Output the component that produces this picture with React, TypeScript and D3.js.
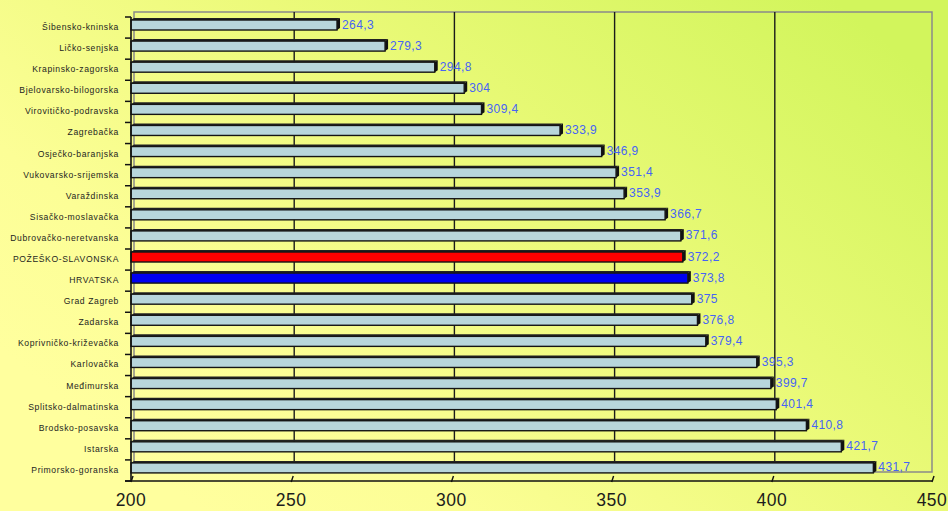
import React from "react";
import * as d3 from "d3";

const categories = [
  "Šibensko-kninska",
  "Ličko-senjska",
  "Krapinsko-zagorska",
  "Bjelovarsko-bilogorska",
  "Virovitičko-podravska",
  "Zagrebačka",
  "Osječko-baranjska",
  "Vukovarsko-srijemska",
  "Varaždinska",
  "Sisačko-moslavačka",
  "Dubrovačko-neretvanska",
  "POŽEŠKO-SLAVONSKA",
  "HRVATSKA",
  "Grad Zagreb",
  "Zadarska",
  "Koprivničko-križevačka",
  "Karlovačka",
  "Međimurska",
  "Splitsko-dalmatinska",
  "Brodsko-posavska",
  "Istarska",
  "Primorsko-goranska",
];

const values = [
  264.3, 279.3, 294.8, 304, 309.4, 333.9, 346.9, 351.4, 353.9, 366.7, 371.6,
  372.2, 373.8, 375, 376.8, 379.4, 395.3, 399.7, 401.4, 410.8, 421.7, 431.7,
];

const xTicks = [200, 250, 300, 350, 400, 450];
const xDomain = [200, 450];

const highlight: Record<string, string> = {
  "POŽEŠKO-SLAVONSKA": "#ff0000",
  HRVATSKA: "#0000f0",
};

const W = 948;
const H = 511;
const FONT = "'Liberation Sans', Arial, sans-serif";

export default function App() {
  const x = d3.scaleLinear().domain(xDomain).range([131, 932]);
  const y = d3.scaleBand().domain(categories).range([17, 481]).padding(0);
  const bw = y.bandwidth();
  const dx = 3;
  const dy = 2;
  const wallTop = 12;
  const wallBottom = 472;
  const fmt = (v: number) => String(v).replace(".", ",");

  return (
    <div style={{ position: "absolute", left: 0, top: 0 }}>
      <svg width={W} height={H} style={{ display: "block" }}>
        <defs>
          <linearGradient id="bg" gradientUnits="userSpaceOnUse" x1={760} y1={-60} x2={260} y2={560}>
            <stop offset="0" stopColor="#d2f55c" />
            <stop offset="0.45" stopColor="#ecfa7a" />
            <stop offset="0.8" stopColor="#fcfe96" />
            <stop offset="1" stopColor="#ffff9e" />
          </linearGradient>
        </defs>
        <rect x={0} y={0} width={W} height={H} fill="url(#bg)" />

        {/* back wall */}
        <rect
          x={x(200) + dx}
          y={wallTop}
          width={x(450) - x(200) - dx}
          height={wallBottom - wallTop}
          fill="none"
          stroke="#8a8a8a"
          strokeWidth={1.5}
        />
        {/* grid lines */}
        {xTicks.slice(1, -1).map((t) => (
          <line
            key={"g" + t}
            x1={x(t) + dx}
            x2={x(t) + dx}
            y1={wallTop}
            y2={wallBottom}
            stroke="#1a1a1a"
            strokeWidth={1.4}
          />
        ))}

        {/* bars */}
        {categories.map((c, i) => {
          const v = values[i];
          const top = (y(c) as number) + 3;
          const h = 10;
          const x0 = x(200);
          const x1 = x(v);
          const fill = highlight[c] || "#b8d6db";
          return (
            <g key={c}>
              <polygon
                points={`${x0},${top} ${x1},${top} ${x1 + dx},${top - dy} ${x0 + dx},${top - dy}`}
                fill="#222"
              />
              <polygon
                points={`${x1},${top} ${x1 + dx},${top - dy} ${x1 + dx},${top + h - dy} ${x1},${top + h}`}
                fill="#111"
              />
              <rect
                x={x0}
                y={top}
                width={x1 - x0}
                height={h}
                fill={fill}
                stroke="#151515"
                strokeWidth={1.4}
              />
              <text
                x={x1 + dx + 2}
                y={(y(c) as number) + 11.5}
                fill="#4664f5"
                fontSize={12}
                fontFamily={FONT}
                letterSpacing={0.4}
              >
                {fmt(v)}
              </text>
              <text
                x={119}
                y={(y(c) as number) + 13}
                textAnchor="end"
                fill="#1e1e1e"
                fontSize={8.6}
                fontFamily={FONT}
                letterSpacing={0.6}
              >
                {c}
              </text>
            </g>
          );
        })}

        {/* left axis */}
        <line x1={131} x2={131} y1={17} y2={481} stroke="#111" strokeWidth={1.6} />
        {d3.range(categories.length + 1).map((i) => {
          const yy = 17 + i * bw;
          return <line key={"yt" + i} x1={125} x2={131} y1={yy} y2={yy} stroke="#111" strokeWidth={1.5} />;
        })}

        {/* bottom axis */}
        <line x1={125} x2={932} y1={481} y2={481} stroke="#111" strokeWidth={1.6} />
        {xTicks.map((t) => (
          <g key={"xt" + t}>
            <line x1={x(t)} x2={x(t) + 2} y1={482} y2={476} stroke="#111" strokeWidth={1.4} />
            <text
              x={x(t)}
              y={506}
              textAnchor="middle"
              fill="#1c1c1c"
              fontSize={17.5}
              fontFamily={FONT}
              letterSpacing={0.5}
            >
              {t}
            </text>
          </g>
        ))}
      </svg>
    </div>
  );
}
